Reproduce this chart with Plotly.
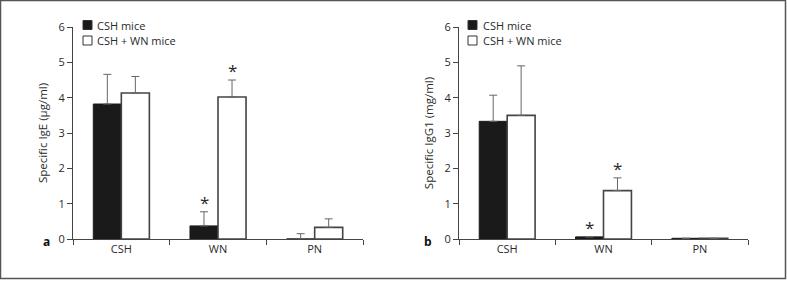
import plotly.graph_objects as go

W, H = 787, 281

categories = ["CSH", "WN", "PN"]
series_names = ["CSH mice", "CSH + WN mice"]

# Panel a: Specific IgE (µg/ml)
a_csh = [3.82, 0.37, 0.0]
a_csh_err = [0.84, 0.40, 0.15]
a_wn = [4.13, 4.02, 0.33]
a_wn_err = [0.47, 0.48, 0.24]
a_sig = [("WN", 0), ("WN", 1)]

# Panel b: Specific IgG1 (mg/ml)
b_csh = [3.33, 0.06, 0.02]
b_csh_err = [0.74, 0.0, 0.0]
b_wn = [3.50, 1.37, 0.02]
b_wn_err = [1.40, 0.36, 0.0]
b_sig = [("WN", 0), ("WN", 1)]

y_ticks = [0, 1, 2, 3, 4, 5, 6]

FONT = "Open Sans"
FS = 11
TXT = "#2a2a2a"
AX = "#444444"


def px(x):
    return x / W


def py(y):
    return 1 - y / H


fig = go.Figure()

panels = [
    dict(xa="x", ya="y", csh=a_csh, csherr=a_csh_err, wn=a_wn, wnerr=a_wn_err, sig=a_sig),
    dict(xa="x2", ya="y2", csh=b_csh, csherr=b_csh_err, wn=b_wn, wnerr=b_wn_err, sig=b_sig),
]

annotations = []
for i, p in enumerate(panels):
    fig.add_trace(go.Bar(
        x=categories, y=p["csh"], name=series_names[0], xaxis=p["xa"], yaxis=p["ya"],
        marker=dict(color="#1a1a1a", line=dict(color="#1a1a1a", width=1)),
        error_y=dict(type="data", array=p["csherr"], arrayminus=[0] * 3, symmetric=False,
                     color="#666666", thickness=1, width=4, visible=True),
        offsetgroup="0", showlegend=False,
    ))
    fig.add_trace(go.Bar(
        x=categories, y=p["wn"], name=series_names[1], xaxis=p["xa"], yaxis=p["ya"],
        marker=dict(color="white", line=dict(color="#444444", width=1.6)),
        error_y=dict(type="data", array=p["wnerr"], arrayminus=[0] * 3, symmetric=False,
                     color="#666666", thickness=1, width=4, visible=True),
        offsetgroup="1", showlegend=False,
    ))
    for cat, s in p["sig"]:
        idx = categories.index(cat)
        vals = p["csh"] if s == 0 else p["wn"]
        errs = p["csherr"] if s == 0 else p["wnerr"]
        annotations.append(dict(
            x=cat, y=vals[idx] + errs[idx], xref=p["xa"], yref=p["ya"],
            text="*", showarrow=False, yanchor="bottom",
            xshift=-14 if s == 0 else 14, yshift=-4,
            font=dict(family=FONT, size=17, color=TXT),
        ))

# panel letters
annotations.append(dict(x=px(41), y=py(252), xref="paper", yref="paper", text="<b>a</b>",
                        showarrow=False, font=dict(family=FONT, size=12, color="#111")))
annotations.append(dict(x=px(428), y=py(252), xref="paper", yref="paper", text="<b>b</b>",
                        showarrow=False, font=dict(family=FONT, size=12, color="#111")))

shapes = []
# legends (drawn manually)
for (sx, tx) in [(83, 95), (468, 481)]:
    for j, (yc, fill) in enumerate([(25, "#1a1a1a"), (40.5, "white")]):
        shapes.append(dict(type="rect", xref="paper", yref="paper",
                           x0=px(sx), x1=px(sx + 9), y0=py(yc - 4.5), y1=py(yc + 4.5),
                           fillcolor=fill, line=dict(color="#333333", width=1)))
        annotations.append(dict(x=px(tx), y=py(yc), xref="paper", yref="paper",
                                text=series_names[j], showarrow=False, xanchor="left",
                                yanchor="middle",
                                font=dict(family=FONT, size=FS, color=TXT)))

# outer frame
shapes.append(dict(type="rect", xref="paper", yref="paper", x0=px(0.5), x1=px(785.5),
                   y0=py(278.5), y1=py(0.5), line=dict(color="#555555", width=1.5)))

y_dom = [py(239), py(27)]
xaxis_common = dict(
    type="category", range=[-0.5, 2.5], showline=True, linecolor=AX, linewidth=1,
    ticks="outside", tickson="boundaries", ticklen=5, tickcolor=AX, showgrid=False,
    zeroline=False, tickfont=dict(family=FONT, size=FS, color=TXT), fixedrange=True,
    automargin=False,
)
yaxis_common = dict(
    range=[0, 6], tickvals=y_ticks, showline=True, linecolor=AX, linewidth=1,
    ticks="outside", ticklen=5, tickcolor=AX, showgrid=False, zeroline=False,
    tickfont=dict(family=FONT, size=FS, color=TXT), domain=y_dom, automargin=False,
)

fig.update_layout(
    template="none",
    width=W, height=H, margin=dict(l=0, r=0, t=0, b=0, pad=0),
    paper_bgcolor="white", plot_bgcolor="white",
    barmode="group", bargap=0.42, bargroupgap=0,
    showlegend=False,
    xaxis=dict(domain=[px(73), px(363)], anchor="y", **xaxis_common),
    xaxis2=dict(domain=[px(459), px(748)], anchor="y2", **xaxis_common),
    yaxis=dict(anchor="x", title=dict(text="Specific IgE (µg/ml)", standoff=8,
                                      font=dict(family=FONT, size=11.5, color=TXT)),
               **yaxis_common),
    yaxis2=dict(anchor="x2", title=dict(text="Specific IgG1 (mg/ml)", standoff=8,
                                        font=dict(family=FONT, size=11.5, color=TXT)),
                **yaxis_common),
    annotations=annotations, shapes=shapes,
)

fig.write_html(
    "out.html",
    config={"displayModeBar": False, "responsive": False},
    post_script="document.body.style.margin='0';document.body.style.overflow='hidden';",
)
